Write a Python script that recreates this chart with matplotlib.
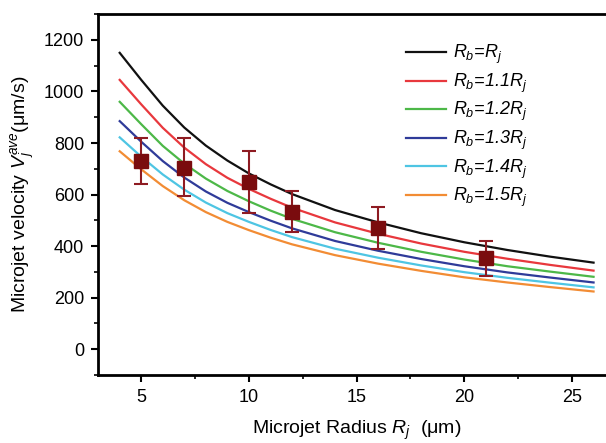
import numpy as np
import matplotlib
matplotlib.use('Agg')
import matplotlib.pyplot as plt
from matplotlib.ticker import MultipleLocator

plt.rcParams['font.family'] = ['Liberation Sans', 'DejaVu Sans']
plt.rcParams['mathtext.fontset'] = 'custom'
plt.rcParams['mathtext.rm'] = 'Liberation Sans'
plt.rcParams['mathtext.it'] = 'Liberation Sans:italic'

## model curves
radius = [4, 5, 6, 7, 8, 9, 10, 11, 12, 14, 16, 18, 20, 22, 24, 26]
v_10 = [1150, 1045, 945, 860, 790, 732, 682, 640, 602, 540, 492, 450, 415, 385, 359, 336]
v_11 = [1045, 950, 859, 782, 718, 665, 622, 584, 549, 492, 448, 410, 378, 351, 327, 305]
v_12 = [960, 873, 789, 720, 662, 614, 574, 538, 506, 454, 413, 378, 348, 322, 301, 281]
v_13 = [885, 805, 730, 666, 612, 568, 532, 499, 469, 420, 382, 350, 322, 298, 278, 259]
v_14 = [822, 747, 678, 619, 569, 528, 494, 463, 435, 390, 355, 325, 299, 277, 258, 240]
v_15 = [768, 698, 633, 578, 532, 494, 462, 433, 407, 365, 332, 304, 279, 259, 241, 224]

labels = [r'$R_b$=$R_j$', r'$R_b$=1.1$R_j$', r'$R_b$=1.2$R_j$',
          r'$R_b$=1.3$R_j$', r'$R_b$=1.4$R_j$', r'$R_b$=1.5$R_j$']
colors = ['#111111', '#e8383d', '#4db848', '#2f3b99', '#4ec5e3', '#f28c34']

## measured data
r_exp = [5, 7, 10, 12, 16, 21]
v_exp = [730, 705, 648, 532, 472, 353]
err_lo = [90, 112, 118, 78, 82, 68]
err_hi = [90, 113, 120, 80, 80, 67]

fig = plt.figure(figsize=(6.06, 4.43), dpi=100)
ax = fig.add_axes([0.162, 0.1535, 0.853, 0.8145])

for v, lab, c in zip([v_10, v_11, v_12, v_13, v_14, v_15], labels, colors):
    ax.plot(radius, v, color=c, linewidth=1.6, label=lab)

ax.errorbar(r_exp, v_exp, yerr=[err_lo, err_hi], fmt='s', color='#7a0c0e',
            ecolor='#8e1b22', markersize=9.5, elinewidth=1.5, capsize=5,
            capthick=1.5, zorder=5)

ax.set_xlim(3, 27)
ax.set_ylim(-100, 1300)
ax.xaxis.set_major_locator(MultipleLocator(5))
ax.xaxis.set_minor_locator(MultipleLocator(2.5))
ax.yaxis.set_major_locator(MultipleLocator(200))
ax.yaxis.set_minor_locator(MultipleLocator(100))
ax.tick_params(which='major', direction='out', length=5, width=1.5, labelsize=13,
               top=False, right=False, pad=5)
ax.tick_params(which='minor', direction='out', length=3, width=1.2, top=False, right=False)
for s in ax.spines.values():
    s.set_linewidth(2)

ax.set_xlabel(r'Microjet Radius $R_j$  ($\mathrm{\mu}$m)', fontsize=14, labelpad=9)
ax.set_ylabel(r'Microjet velocity $V_j^{ave}$($\mathrm{\mu}$m/s)', fontsize=14, labelpad=5)

leg = ax.legend(loc='upper left', bbox_to_anchor=(0.565, 0.965), frameon=False,
                handlelength=2.2, handletextpad=0.35, labelspacing=0.3,
                prop={'style': 'italic', 'size': 13})

fig.savefig('out.png', dpi=100)
